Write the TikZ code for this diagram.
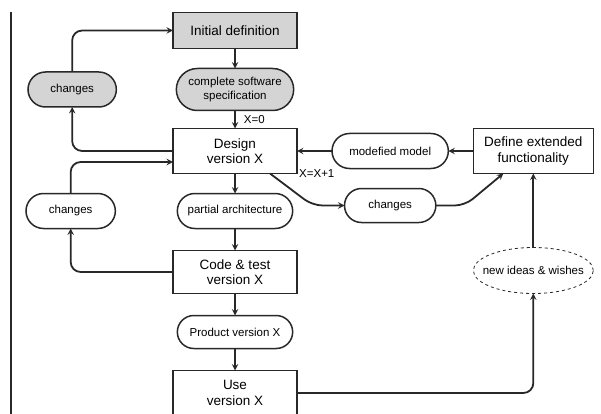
\documentclass[tikz,border=0pt]{standalone}
\usepackage{fontspec}
\setmainfont{Liberation Sans}
\usepackage{tikz}
\usetikzlibrary{shapes.geometric, shapes.misc, arrows, calc, positioning}
\definecolor{boxgray}{RGB}{212,212,212}
\definecolor{linegray}{RGB}{40,40,40}
\tikzstyle{block} = [rectangle, line width=1.5pt, outer sep=0pt, minimum width=124pt, minimum height=45pt, text centered, align=center, draw=linegray, font=\fontsize{13.5}{15.5}\selectfont]
\tikzstyle{pill} = [rounded rectangle, line width=1.5pt, outer sep=0pt, minimum width=122pt, minimum height=35pt, text centered, align=center, draw=linegray, font=\fontsize{11.5}{13.5}\selectfont]
\tikzstyle{idea} = [ellipse, dashed, line width=0.8pt, outer sep=0pt, minimum width=120pt, minimum height=46pt, inner xsep=-10pt, draw=linegray, font=\fontsize{11.5}{13.5}\selectfont]
\tikzstyle{note} = [inner sep=2pt, font=\fontsize{11.5}{13.5}\selectfont]
\tikzstyle{arrow} = [line width=1.8pt, draw=linegray, rounded corners=10pt, ->, >=stealth]

\begin{document}
\begin{tikzpicture}[x=1pt, y=-1pt, node distance = 20pt, auto]
		\useasboundingbox (0,0) rectangle (601,414);
		\node (Initial) [block, fill=boxgray, minimum height=36pt] at (235,30.5) {Initial definition};
		\node (Spec) [pill, fill=boxgray, minimum width=124pt, minimum height=42pt, below = 20pt of Initial] {complete software\\specification};
		\node (Design) [block, below = 18pt of Spec] {Design\\version X};
		\node (Partial) [pill, below = 20pt of Design] {partial architecture};
		\node (Code) [block, minimum height=43pt, below = 22pt of Partial] {Code \& test\\version X};
		\node (Product) [pill, minimum height=33pt, below = 22pt of Code] {Product version X};
		\node (Use) [block, below = 22pt of Product] {Use\\version X};
		\node (ChangesDef) [pill, fill=boxgray, minimum width=95pt, left = 60pt of Spec] {changes};
		\node (ChangesCode) [pill, minimum width=96pt, left = 62pt of Partial] {changes};
		\node (Modified) [pill, minimum width=123pt, right = 35pt of Design] {modefied model};
		\node (Extended) [block, minimum width=120pt, right = 25pt of Modified] {Define extended\\functionality};
		\node (ChangesExt) [pill, minimum width=98pt, minimum height=34pt, below = 20pt of Modified] {changes};
		\node (Ideas) [idea, below = 74pt of Extended] {new ideas \& wishes};
		\node (LabelNext) [note, anchor=west] at (Design.south east) {X=X+1};
		\coordinate (PageTop) at (11,12);
		\coordinate (PageBottom) at (11,414);
		\draw [arrow] (Initial) -- (Spec);
		\draw [arrow] (Spec) -- node[note, right, xshift=6pt] {X=0} (Design);
		\draw [arrow] (Design) -- (Partial);
		\draw [arrow] (Partial) -- (Code);
		\draw [arrow] (Code) -- (Product);
		\draw [arrow] (Product) -- (Use);
		\draw [arrow] (ChangesDef) |- (Initial);
		\draw [arrow] (Design.west) -| (ChangesDef.south);
		\draw [arrow] (ChangesCode) |- ([yshift=-11pt]Design.west);
		\draw [arrow] (Code.west) -| (ChangesCode.south);
		\draw [arrow] (Extended) -- (Modified);
		\draw [arrow] (Modified) -- (Design);
		\draw [arrow] ([xshift=35pt]Design.south) -- ([xshift=-32pt]ChangesExt.west) -- (ChangesExt);
		\draw [arrow] (ChangesExt) -- ([xshift=29pt]ChangesExt.east) -- ([xshift=-30pt]Extended.south);
		\draw [arrow] (Ideas) -- (Extended);
		\draw [arrow] (Use) -| (Ideas);
		\draw [line width=1.5pt, draw=linegray] (PageTop) -- (PageBottom);
\end{tikzpicture}
\end{document}
